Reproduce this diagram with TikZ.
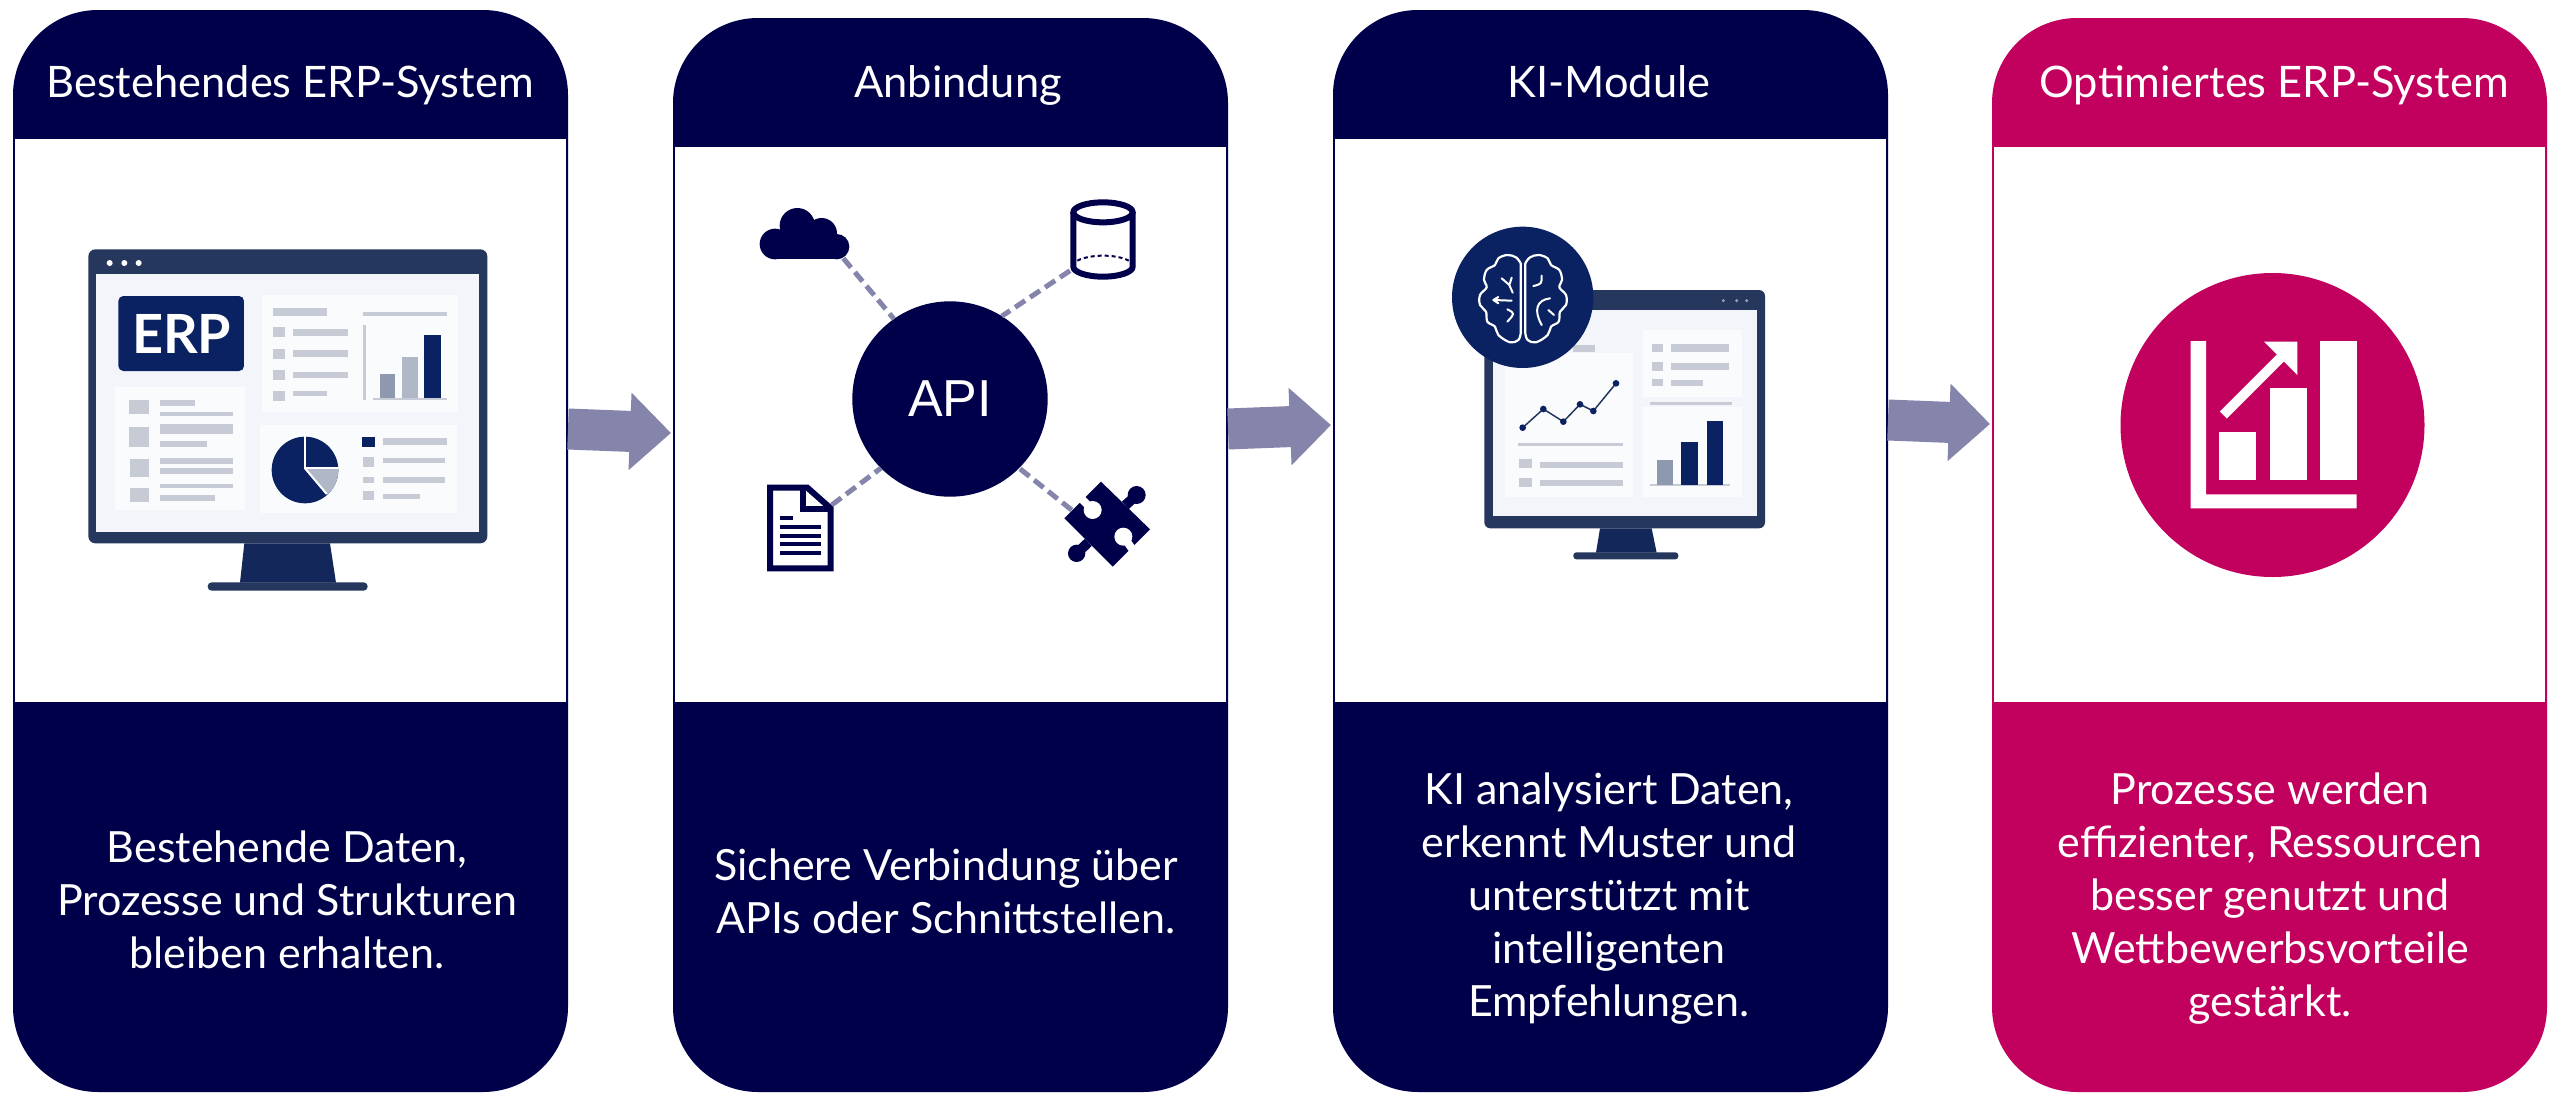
\documentclass[tikz,border=0pt]{standalone}
\usepackage{fontspec}
\setmainfont{Lato}
\newfontfamily\arialf{Liberation Sans}
\usetikzlibrary{arrows.meta}
\definecolor{navy}{HTML}{00004A}
\definecolor{mag}{HTML}{C2005E}
\definecolor{arrowc}{HTML}{8585AC}
\definecolor{frame}{HTML}{25375C}
\definecolor{deep}{HTML}{0B2262}
\definecolor{stand}{HTML}{14275A}
\definecolor{screen}{HTML}{F4F5FA}
\definecolor{soft}{HTML}{FAFBFD}
\definecolor{grey}{HTML}{C6CBD6}
\definecolor{midg}{HTML}{8E99AF}
\definecolor{lightg}{HTML}{B0B8C8}
\tikzset{
  panel/.style={fill=#1,rounded corners=85pt,minimum width=555pt,anchor=north west,inner sep=0pt,outer sep=0pt},
  inner/.style={fill=white,minimum width=551pt,anchor=north west,inner sep=0pt,outer sep=0pt},
  head/.style={text=white,font=\fontsize{43.4}{50}\selectfont,anchor=base,inner sep=0pt},
  body/.style={text=white,font=\fontsize{43}{53}\selectfont,align=center,anchor=center,inner sep=0pt},
  flow/.style={draw=arrowc,line width=41pt,-{Triangle[length=41pt,width=75pt]}},
  link/.style={draw=arrowc,line width=5pt,dash pattern=on 12pt off 6pt},
  px/.style={x=0.33333pt,y=-0.33333pt},
}
\newcommand{\gb}[2]{\fill[grey] #1 rectangle #2;}
\newcommand{\brainhalf}{%
  \draw[white,line width=2.2pt,line join=round] plot[smooth,tension=0.6] coordinates {(272,160)(258,142)(232,135)(205,145)(195,165)(170,180)(162,210)(170,232)(150,255)(150,285)(168,305)(172,335)(195,350)(205,375)(240,397)(265,390)(272,370)} -- cycle;
}
\begin{document}
\begin{tikzpicture}[x=1pt,y=-1pt]
\useasboundingbox (0,0) rectangle (2560,1101);
\fill[white] (0,0) rectangle (2560,1101);
% panels
\node[panel=navy,minimum height=1082pt] (p1) at (13,10) {};
\node[panel=navy,minimum height=1074pt] (p2) at (673,18) {};
\node[panel=navy,minimum height=1082pt] (p3) at (1333,10) {};
\node[panel=mag,minimum height=1074pt] (p4) at (1992,18) {};
\node[inner,minimum height=563pt] (w1) at (15,139) {};
\node[inner,minimum height=555pt] (w2) at (675,147) {};
\node[inner,minimum height=563pt] (w3) at (1335,139) {};
\node[inner,minimum height=555pt] (w4) at (1994,147) {};
% flow arrows
\draw[flow] ([yshift=122pt]p1.east) -- ([yshift=122pt,xshift=-2pt]p2.west);
\draw[flow] ([yshift=126pt]p2.east) -- ([yshift=126pt,xshift=-2pt]p3.west);
\draw[flow] ([yshift=131pt]p3.east) -- ([yshift=131pt,xshift=-2pt]p4.west);
% heads
\node[head] (h1) at (290,97) {Bestehendes ERP-System};
\node[head] (h2) at (958,97) {Anbindung};
\node[head] (h3) at (1609,97) {KI-Module};
\node[head] (h4) at (2274,97) {Optimiertes ERP-System};
% bodies
\node[body] (b1) at (287,900) {Bestehende Daten,\\Prozesse und Strukturen\\bleiben erhalten.};
\node[body] (b2) at (946,891) {Sichere Verbindung über\\APIs oder Schnittstellen.};
\node[body] (b3) at (1609,899) {KI analysiert Daten,\\erkennt Muster und\\unterstützt mit\\intelligenten\\Empfehlungen.};
\node[body] (b4) at (2270,899) {Prozesse werden\\effizienter, Ressourcen\\besser genutzt und\\Wettbewerbsvorteile\\gestärkt.};
% monitor 1
\begin{scope}[shift={(60,220)},px]
\fill[frame,rounded corners=7pt] (85,88) rectangle (1282,970);
\fill[screen] (108,162) rectangle (1257,935);
\foreach \xx in {149,193,236} \fill[white] (\xx,129) circle (9);
\fill[soft] (605,225) rectangle (1195,575);
\fill[soft] (600,615) rectangle (1190,880);
\fill[soft] (165,500) rectangle (555,870);
\fill[deep,rounded corners=5pt] (175,228) rectangle (552,453);
\node[text=white,inner sep=0pt,font=\bfseries\fontsize{54}{54}\selectfont] (erp) at (365,342) {ERP};
\gb{(640,263)}{(800,287)}
\gb{(640,322)}{(675,352)}\gb{(640,386)}{(675,416)}\gb{(640,450)}{(675,480)}\gb{(640,512)}{(675,542)}
\gb{(700,326)}{(865,348)}\gb{(700,390)}{(865,410)}\gb{(700,455)}{(865,475)}\gb{(700,514)}{(800,528)}
\gb{(910,277)}{(1160,287)}\gb{(910,315)}{(917,540)}\gb{(938,533)}{(1162,541)}
\fill[midg] (960,463) rectangle (1005,535);
\fill[lightg] (1025,410) rectangle (1075,535);
\fill[deep] (1093,346) rectangle (1143,535);
\gb{(207,540)}{(267,583)}\gb{(207,622)}{(267,682)}\gb{(209,717)}{(267,772)}\gb{(209,803)}{(267,845)}
\gb{(300,541)}{(405,559)}\gb{(300,575)}{(520,589)}\gb{(300,613)}{(520,641)}\gb{(300,662)}{(440,680)}
\gb{(300,715)}{(520,733)}\gb{(300,745)}{(520,763)}\gb{(300,792)}{(520,805)}\gb{(300,825)}{(465,843)}
% pie
\fill[deep] (735,750) circle[radius=100];
\begin{scope}
\clip (735,745) -- (860,745) -- (860,880) -- (810,835) -- cycle;
\fill[lightg] (735,750) circle[radius=100];
\end{scope}
\draw[white,line width=2pt] (735,640) -- (735,745) -- (845,745);
\draw[white,line width=2pt] (735,745) -- (800,822);
\fill[deep] (905,652) rectangle (945,682);
\gb{(908,712)}{(943,742)}\gb{(908,770)}{(943,790)}\gb{(908,813)}{(943,841)}
\gb{(970,655)}{(1160,675)}\gb{(970,713)}{(1155,730)}\gb{(970,772)}{(1155,788)}\gb{(970,822)}{(1080,836)}
\fill[stand] (553,970) -- (810,970) -- (828,1088) -- (540,1088) -- cycle;
\fill[frame,rounded corners=4pt] (443,1087) rectangle (923,1112);
\end{scope}
% API hub links and icons
\node[circle,fill=navy,minimum size=195.4pt,inner sep=0pt,outer sep=0pt,text=white,font=\arialf\fontsize{52}{52}\selectfont] (api) at (950,399) {API};
\begin{scope}[shift={(720,170)},px]
\coordinate (cloudp) at (370,265);
\coordinate (cylp) at (1050,302);
\coordinate (docp) at (335,1005);
\coordinate (puzp) at (1055,1020);
% cloud
\fill[navy] (165,222) circle[radius=46];
\fill[navy] (232,167) circle[radius=53];
\fill[navy] (305,190) circle[radius=46];
\fill[navy] (350,230) circle[radius=38];
\fill[navy] (165,200) rectangle (350,268);
% cylinder
\draw[navy,line width=6pt] (1060,127) -- (1060,290) arc[start angle=180,end angle=360,x radius=89,y radius=-30] -- (1238,127);
\draw[navy,line width=6pt] (1149,127) ellipse[x radius=89,y radius=30];
\draw[navy,line width=2pt,dash pattern=on 4pt off 3pt] (1072,272) .. controls (1110,252) and (1190,252) .. (1226,272);
% document
\draw[navy,line width=6pt,miter limit=4] (150,953) -- (262,953) -- (332,1015) -- (332,1195) -- (150,1195) -- cycle;
\draw[navy,line width=6pt] (250,955) -- (250,1018) -- (332,1018);
\draw[navy,line width=4pt] (180,1045) -- (220,1045);
\foreach \yy in {1071,1097,1123,1149} \draw[navy,line width=4pt] (180,\yy) -- (302,\yy);
% puzzle
\fill[navy] (1143,935) -- (1290,1078) -- (1178,1190) -- (1033,1045) -- cycle;
\draw[navy,line width=10pt] (1216,1006) -- (1250,975);
\fill[navy] (1250,975) circle[radius=27];
\draw[navy,line width=10pt] (1105,1117) -- (1070,1150);
\fill[navy] (1070,1150) circle[radius=26];
\draw[white,line width=8pt] (1086,988) -- (1118,1020);
\fill[white] (1118,1020) circle[radius=27];
\draw[white,line width=8pt] (1236,1136) -- (1210,1100);
\fill[white] (1210,1100) circle[radius=27];
\end{scope}
\draw[link] (cloudp) -- (api.125);
\draw[link] (cylp) -- (api.58);
\draw[link] (docp) -- (api.225);
\draw[link] (puzp) -- (api.-45);
% monitor 2
\begin{scope}[shift={(1430,210)},px]
\fill[frame,rounded corners=6pt] (163,240) rectangle (1005,955);
\fill[screen] (188,300) rectangle (980,918);
\foreach \xx in {880,920,950} \fill[grey!70!frame] (\xx,272) circle (5);
\fill[soft] (225,430) rectangle (610,860);
\fill[soft] (640,360) rectangle (935,560);
\fill[soft] (640,590) rectangle (935,860);
\gb{(430,405)}{(495,427)}
\draw[frame,line width=1.5pt] (278,653) -- (340,597) -- (400,635) -- (450,583) -- (490,603) -- (558,520);
\foreach \pp in {(278,653),(340,597),(400,635),(450,583),(490,603),(558,520)} \fill[deep] \pp circle[radius=10];
\gb{(265,700)}{(580,708)}
\gb{(268,747)}{(305,775)}\gb{(268,805)}{(305,832)}
\gb{(330,755)}{(580,773)}\gb{(330,810)}{(580,827)}
\gb{(667,402)}{(700,427)}\gb{(667,457)}{(700,482)}\gb{(667,507)}{(700,527)}
\gb{(722,402)}{(898,425)}\gb{(722,459)}{(898,480)}\gb{(722,510)}{(818,527)}
\gb{(660,577)}{(905,585)}
\gb{(660,822)}{(900,829)}
\fill[midg] (680,750) rectangle (730,825);
\fill[deep] (752,695) rectangle (803,825);
\fill[deep] (830,632) rectangle (880,825);
\fill[stand] (510,955) -- (665,955) -- (680,1028) -- (498,1028) -- cycle;
\fill[frame,rounded corners=3pt] (430,1027) rectangle (745,1048);
\fill[deep] (278,262) circle[radius=212];
\brainhalf
\begin{scope}[shift={(558,0)},xscale=-1]
\brainhalf
\end{scope}
\draw[white,line width=2pt,line cap=round,line join=round]
 (215,205) -- (238,225) -- (248,248) (245,203) -- (238,225)
 (190,270) -- (245,272) (205,261) -- (190,270) -- (205,280)
 (232,298) .. controls (255,310) .. (232,335)
 (310,228) .. controls (335,222) .. (335,197)
 (360,265) .. controls (320,270) and (310,300) .. (335,345)
 (355,300) -- (372,315);
\end{scope}
% optimised icon
\node[circle,fill=mag,minimum size=304pt,inner sep=0pt,outer sep=0pt] (gain) at (2272.5,425) {};
\begin{scope}[shift={(2080,260)},px]
\fill[white] (332,243) -- (378,243) -- (378,703) -- (830,703) -- (830,745) -- (332,745) -- cycle;
\fill[white] (418,515) rectangle (528,660);
\fill[white] (570,385) rectangle (680,660);
\fill[white] (720,243) rectangle (830,660);
\draw[white,line width=10pt] (430,465) -- (625,270);
\fill[white] (552,245) -- (652,245) -- (652,345) -- cycle;
\end{scope}
\end{tikzpicture}
\end{document}
